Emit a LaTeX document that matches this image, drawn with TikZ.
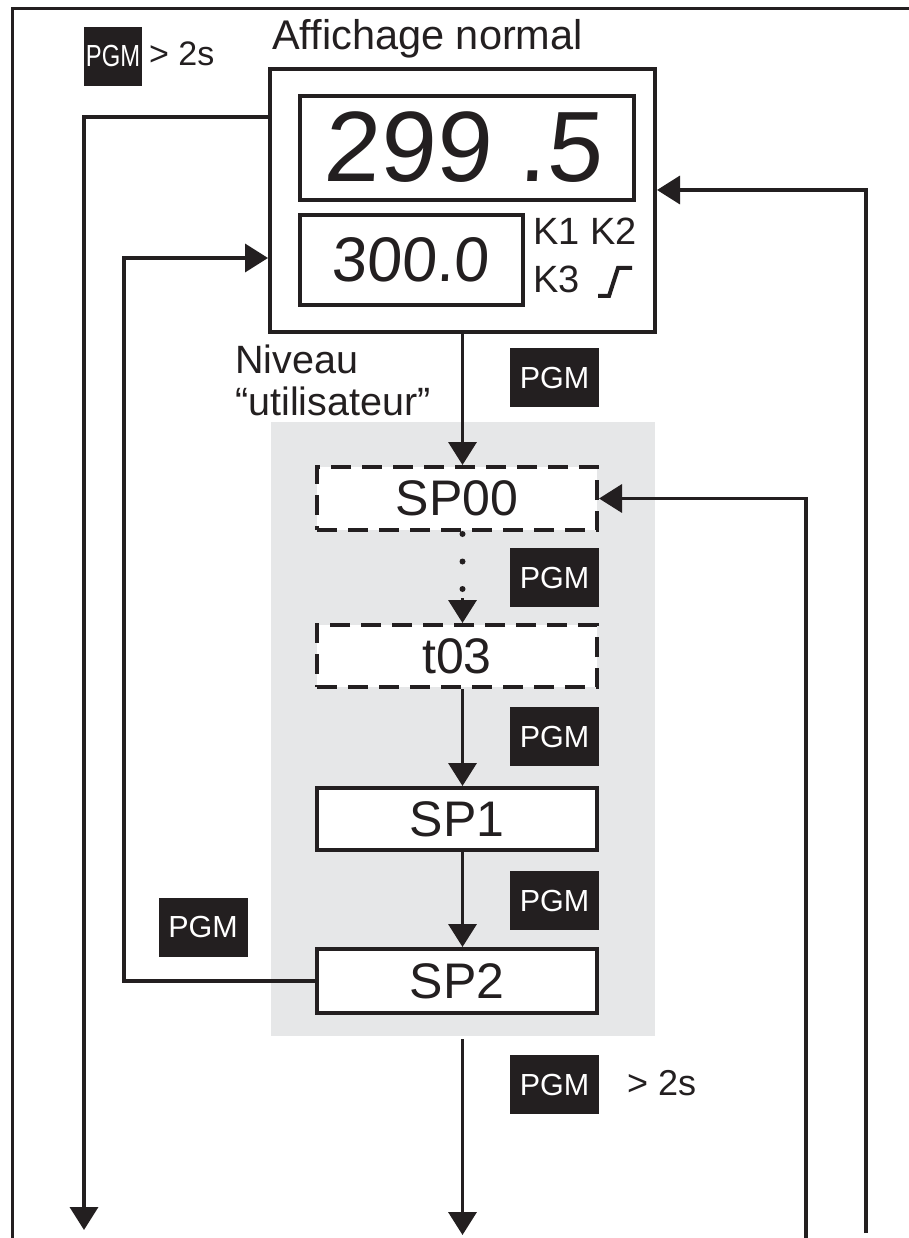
\documentclass[tikz,border=0pt]{standalone}
\usepackage{fontspec}
\setmainfont{Liberation Sans}
\newfontfamily\segfont[FakeSlant=0.06]{Liberation Sans}
\usepackage{graphicx}
\usetikzlibrary{arrows.meta,calc}
\definecolor{ink}{HTML}{231F20}
\definecolor{panel}{HTML}{E6E7E8}
\begin{document}
\begin{tikzpicture}[x=1pt,y=-1pt,
  arr/.style={line width=3.6pt, draw=ink, -{Triangle[length=23pt,width=28pt]}},
  pgm/.style={fill=ink, text=white, minimum width=89pt, minimum height=59pt, inner sep=0pt, font=\fontsize{30.5}{31}\selectfont},
  stepbox/.style={draw=ink, line width=4pt, fill=white, minimum width=280pt, inner sep=0pt, text=ink, font=\fontsize{50}{52}\selectfont},
  dashbox/.style={stepbox, dash pattern=on 20pt off 11pt},
  dispbox/.style={draw=ink, line width=4pt, inner sep=0pt},
  lbl/.style={inner sep=0pt, text=ink, font=\fontsize{39.5}{42}\selectfont}
]
\useasboundingbox (0,0) rectangle (909,1238);
\fill[white] (0,0) rectangle (909,1238);
% frame
\draw[line width=3.5pt, ink] (12.5,1238) -- (12.5,8.5) -- (909,8.5);
% panel
\node[fill=panel, minimum width=384pt, minimum height=614pt, inner sep=0pt] (bg) at (463,729) {};
% display
\node[dispbox, minimum width=385pt, minimum height=263pt] (disp) at (462.5,200.5) {};
\node[dispbox, minimum width=334pt, minimum height=104pt] (big) at (467,148) {};
\node[dispbox, minimum width=223pt, minimum height=90pt] (small) at (411.5,260) {};
\node[anchor=base, inner sep=0pt, text=ink, font=\segfont\fontsize{100}{100}\selectfont] (bigtxt) at (463,182) {299 .5};
\node[anchor=base, inner sep=0pt, text=ink, font=\segfont\fontsize{63}{63}\selectfont] (smalltxt) at (410,282) {300.0};
\node[lbl, anchor=base west, font=\fontsize{38}{40}\selectfont] (k12) at (533,245) {K1 K2};
\node[lbl, anchor=base west, font=\fontsize{38}{40}\selectfont] (k3) at (533,293) {K3};
\draw[line width=4pt, ink] (598,296) -- (609,296) -- (618,268) -- (632,268);
% labels
\node[lbl, anchor=base west, font=\fontsize{41.5}{42}\selectfont] (aff) at (272,50) {Affichage normal};
\node[pgm, minimum width=58pt] (p0) at (113,56.5) {\scalebox{0.78}[1]{PGM}};
\node[lbl, anchor=base west, font=\fontsize{34}{36}\selectfont] (gt0) at (149,66) {> 2s};
\node[lbl, align=left, anchor=north west] (niv) at (235,344.7) {Niveau\\“utilisateur”};
% steps
\node[dashbox, minimum height=63pt] (sp00) at (457,498.5) {SP00};
\node[dashbox, minimum height=62pt] (t03) at (457,656) {t03};
\node[stepbox, minimum height=62pt] (sp1) at (457,819) {SP1};
\node[stepbox, minimum height=64pt] (sp2) at (457,981) {SP2};
% PGM keys
\node[pgm] (p1) at (554.5,377.5) {PGM};
\node[pgm] (p2) at (554.5,577.5) {PGM};
\node[pgm] (p3) at (554.5,736.5) {PGM};
\node[pgm] (p4) at (554.5,900.5) {PGM};
\node[pgm] (p5) at (203,927) {PGM};
\node[pgm] (p6) at (554.5,1084.5) {PGM};
\node[lbl, anchor=base west, font=\fontsize{36}{38}\selectfont] (gt1) at (627,1095) {> 2s};
% connectors
\coordinate (lA) at (84,117);
\coordinate (lEnd) at (84,1230);
\draw[arr] (disp.west |- lA) -- (lA) -- (lEnd);
\coordinate (lB) at (124,258);
\draw[arr] (sp2.west) -- (sp2.west -| lB) -- (lB) -- (disp.west |- lB);
\coordinate (rS) at (866,1233);
\coordinate (rT) at (866,190);
\draw[arr] (rS) -- (rT) -- (disp.east |- rT);
\coordinate (r2S) at (806,1238);
\draw[arr] (r2S) -- (r2S |- sp00.east) -- (sp00.east);
\draw[arr] (disp.south) -- (disp.south |- sp00.north);
\draw[line width=6pt, ink, line cap=round, dash pattern=on 0pt off 27.5pt] ($(disp.south |- sp00.south)+(0,2)$) -- ($(disp.south |- sp00.south)+(0,58)$);
\draw[arr] ($(disp.south |- t03.north)+(0,-25)$) -- (disp.south |- t03.north);
\draw[arr] (disp.south |- t03.south) -- (disp.south |- sp1.north);
\draw[arr] (disp.south |- sp1.south) -- (disp.south |- sp2.north);
\coordinate (mEnd) at (462.5,1235);
\draw[arr] ($(bg.south -| mEnd)+(0,3)$) -- (mEnd);
\end{tikzpicture}
\end{document}
